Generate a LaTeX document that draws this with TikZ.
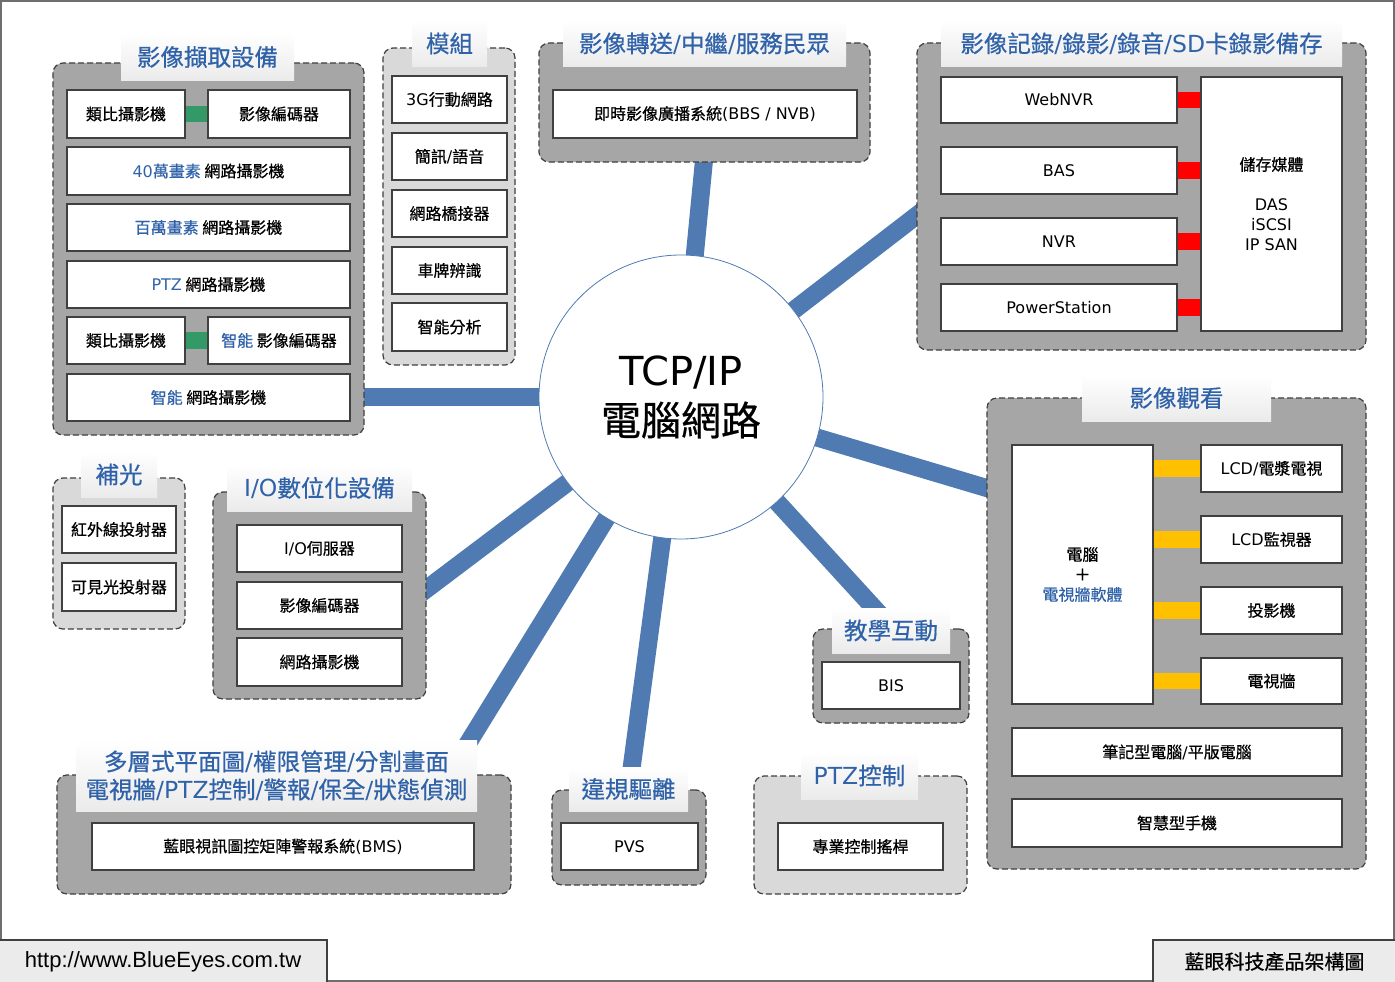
\documentclass[tikz,border=0pt]{standalone}
\usepackage{fontspec}
\setmainfont{Noto Sans CJK TC}[FakeBold=0.6]
\newfontfamily\enfont{DejaVu Sans}
\newfontfamily\urlfont{Liberation Sans}
\newcommand\en[1]{{\enfont #1}}
\definecolor{grpdark}{RGB}{166,166,166}
\definecolor{grplight}{RGB}{217,217,217}
\definecolor{edge}{RGB}{64,64,64}
\definecolor{netblue}{RGB}{79,123,178}
\definecolor{txtblue}{RGB}{47,98,168}
\definecolor{barred}{RGB}{255,0,0}
\definecolor{bargreen}{RGB}{51,153,102}
\definecolor{baryellow}{RGB}{255,192,0}
\definecolor{framegray}{RGB}{110,110,110}
\definecolor{foot}{RGB}{235,235,235}
\pgfdeclarelayer{back}
\pgfdeclarelayer{conn}
\pgfdeclarelayer{grp}
\pgfdeclarelayer{bar}
\pgfsetlayers{back,conn,grp,bar,main}
\newcommand\mkbox[7][]{\node[#1, minimum width={(#5-#3)*1pt}, minimum height={(#6-#4)*1pt}] (#2) at ({(#3+#5)/2},{(#4+#6)/2}) {#7};}
\tikzset{
  box/.style={draw=edge, line width=1.3pt, fill=white, inner sep=0pt, align=center, font=\fontsize{16}{20}\selectfont},
  grpd/.style={draw=edge, line width=1.2pt, dash pattern=on 6pt off 3pt, rounded corners=10pt, fill=grpdark, inner sep=0pt},
  grpl/.style={grpd, fill=grplight},
  tabst/.style={top color=white, bottom color=gray!16, draw=none, inner sep=0pt, align=center, text=txtblue, font=\fontsize{23.5}{28}\selectfont},
  conn/.style={draw=netblue, line width=18pt},
  barst/.style={line width=16.5pt},
  footst/.style={draw=edge, line width=1.5pt, fill=foot, inner sep=0pt, font=\fontsize{20}{24}\selectfont}
}
\begin{document}
\begin{tikzpicture}[x=1pt,y=-1pt]
\useasboundingbox (0,0) rectangle (1395,982);
\begin{pgfonlayer}{back}
\fill[white] (0,0) rectangle (1395,982);
\draw[framegray, line width=2pt] (1,1) rectangle (1394,981);
\end{pgfonlayer}

% groups
\begin{pgfonlayer}{grp}
\mkbox[grpd]{gcap}{53}{63}{364}{435}{}
\mkbox[grpl]{gmod}{383}{48}{515}{365}{}
\mkbox[grpd]{gfwd}{539}{43}{870}{162}{}
\mkbox[grpd]{grec}{917}{43}{1366}{350}{}
\mkbox[grpd]{gview}{987}{398}{1366}{869}{}
\mkbox[grpl]{glight}{53}{478}{185}{629}{}
\mkbox[grpd]{gio}{213}{492}{426}{699}{}
\mkbox[grpd]{gbms}{57}{775}{511}{894}{}
\mkbox[grpd]{gpvs}{552}{790}{706}{885}{}
\mkbox[grpl]{gptz}{754}{776}{967}{894}{}
\mkbox[grpd]{gbis}{813}{629}{969}{723}{}
\end{pgfonlayer}

% titles
\mkbox[tabst]{tcap}{121}{33}{294}{81}{影像擷取設備}
\mkbox[tabst]{tmod}{412}{20}{487}{67}{模組}
\mkbox[tabst]{tfwd}{563}{20}{846}{67}{影像轉送\en{/}中繼\en{/}服務民眾}
\mkbox[tabst]{trec}{941}{20}{1342}{67}{影像記錄\en{/}錄影\en{/}錄音\en{/SD}卡錄影備存}
\mkbox[tabst]{tview}{1082}{375}{1271}{421}{影像觀看}
\mkbox[tabst]{tlight}{81}{452}{157}{497}{補光}
\mkbox[tabst]{tio}{227}{465}{412}{511}{\en{I/O}數位化設備}
\mkbox[tabst]{tbms}{76}{740}{477}{811}{多層式平面圖\en{/}權限管理\en{/}分割畫面\\電視牆\en{/PTZ}控制\en{/}警報\en{/}保全\en{/}狀態偵測}
\mkbox[tabst]{tpvs}{569}{767}{688}{811}{違規驅離}
\mkbox[tabst]{tptz}{801}{752}{918}{799}{\en{PTZ}控制}
\mkbox[tabst]{tbis}{832}{608}{950}{653}{教學互動}

% capture group
\mkbox[box]{ana1}{67}{90}{185}{138}{類比攝影機}
\mkbox[box]{enc1}{208}{90}{350}{138}{影像編碼器}
\mkbox[box]{cam40}{67}{147}{350}{195}{\textcolor{txtblue}{\en{40}萬畫素} 網路攝影機}
\mkbox[box]{camM}{67}{204}{350}{251}{\textcolor{txtblue}{百萬畫素} 網路攝影機}
\mkbox[box]{camP}{67}{261}{350}{308}{\textcolor{txtblue}{\en{PTZ}} 網路攝影機}
\mkbox[box]{ana2}{67}{317}{185}{364}{類比攝影機}
\mkbox[box]{enc2}{208}{317}{350}{364}{\textcolor{txtblue}{智能} 影像編碼器}
\mkbox[box]{camI}{67}{374}{350}{421}{\textcolor{txtblue}{智能} 網路攝影機}

% modules
\mkbox[box]{m1}{392}{76}{507}{123}{\en{3G}行動網路}
\mkbox[box]{m2}{392}{133}{507}{180}{簡訊\en{/}語音}
\mkbox[box]{m3}{392}{190}{507}{237}{網路橋接器}
\mkbox[box]{m4}{392}{247}{507}{294}{車牌辨識}
\mkbox[box]{m5}{392}{303}{507}{351}{智能分析}

% forward
\mkbox[box]{bbs}{553}{90}{857}{138}{即時影像廣播系統\en{(BBS / NVB)}}

% record
\mkbox[box]{r1}{941}{77}{1177}{123}{\en{WebNVR}}
\mkbox[box]{r2}{941}{147}{1177}{194}{\en{BAS}}
\mkbox[box]{r3}{941}{218}{1177}{265}{\en{NVR}}
\mkbox[box]{r4}{941}{284}{1177}{331}{\en{PowerStation}}
\mkbox[box]{stor}{1201}{77}{1342}{331}{儲存媒體\\[20pt]\en{DAS}\\\en{iSCSI}\\\en{IP SAN}}

% view
\mkbox[box]{pc}{1012}{445}{1153}{704}{電腦\\＋\\\textcolor{txtblue}{電視牆軟體}}
\mkbox[box]{v1}{1201}{445}{1342}{492}{\en{LCD/}電漿電視}
\mkbox[box]{v2}{1201}{516}{1342}{563}{\en{LCD}監視器}
\mkbox[box]{v3}{1201}{587}{1342}{634}{投影機}
\mkbox[box]{v4}{1201}{658}{1342}{704}{電視牆}
\mkbox[box]{v5}{1012}{728}{1342}{776}{筆記型電腦\en{/}平版電腦}
\mkbox[box]{v6}{1012}{799}{1342}{847}{智慧型手機}

% light
\mkbox[box]{l1}{62}{506}{176}{553}{紅外線投射器}
\mkbox[box]{l2}{62}{563}{176}{611}{可見光投射器}

% io
\mkbox[box]{i1}{237}{525}{402}{572}{\en{I/O}伺服器}
\mkbox[box]{i2}{237}{582}{402}{629}{影像編碼器}
\mkbox[box]{i3}{237}{638}{402}{686}{網路攝影機}

% bottom
\mkbox[box]{bms}{92}{823}{474}{870}{藍眼視訊圖控矩陣警報系統\en{(BMS)}}
\mkbox[box]{pvs}{561}{823}{698}{870}{\en{PVS}}
\mkbox[box]{joy}{778}{823}{943}{870}{專業控制搖桿}
\mkbox[box]{bis}{822}{662}{960}{709}{\en{BIS}}

% center
\node[circle, draw=netblue, line width=0.8pt, fill=white, minimum size=284pt, inner sep=0pt, align=center, font=\fontsize{40}{50}\selectfont] (tcp) at (681,397) {\en{TCP/IP}\\電腦網路};

% bars
\begin{pgfonlayer}{bar}
\draw[barst, bargreen] (ana1.east) -- (enc1.west);
\draw[barst, bargreen] (ana2.east) -- (enc2.west);
\draw[barst, barred] (r1.east) -- (r1.east -| stor.west);
\draw[barst, barred] (r2.east) -- (r2.east -| stor.west);
\draw[barst, barred] (r3.east) -- (r3.east -| stor.west);
\draw[barst, barred] (r4.east) -- (r4.east -| stor.west);
\draw[barst, baryellow] (v1.west -| pc.east) -- (v1.west);
\draw[barst, baryellow] (v2.west -| pc.east) -- (v2.west);
\draw[barst, baryellow] (v3.west -| pc.east) -- (v3.west);
\draw[barst, baryellow] (v4.west -| pc.east) -- (v4.west);
\end{pgfonlayer}

% network connectors
\coordinate (efwd) at (705,150);
\coordinate (erec) at (929,206);
\coordinate (eview) at (1000,492);
\coordinate (ebis) at (885,620);
\coordinate (epvs) at (630,780);
\coordinate (ebms) at (462,753);
\coordinate (eio) at (420,594);
\coordinate (ecap) at (355,397);
\begin{pgfonlayer}{conn}
\foreach \e in {efwd,erec,eview,ebis,epvs,ebms,eio,ecap}
  \draw[conn] (tcp.center) -- (\e);
\end{pgfonlayer}

% footer
\mkbox[footst]{url}{-1}{940}{327}{983}{\urlfont\fontsize{22}{26}\selectfont http://www.BlueEyes.com.tw}
\mkbox[footst]{brand}{1153}{940}{1396}{983}{藍眼科技產品架構圖}
\end{tikzpicture}
\end{document}
